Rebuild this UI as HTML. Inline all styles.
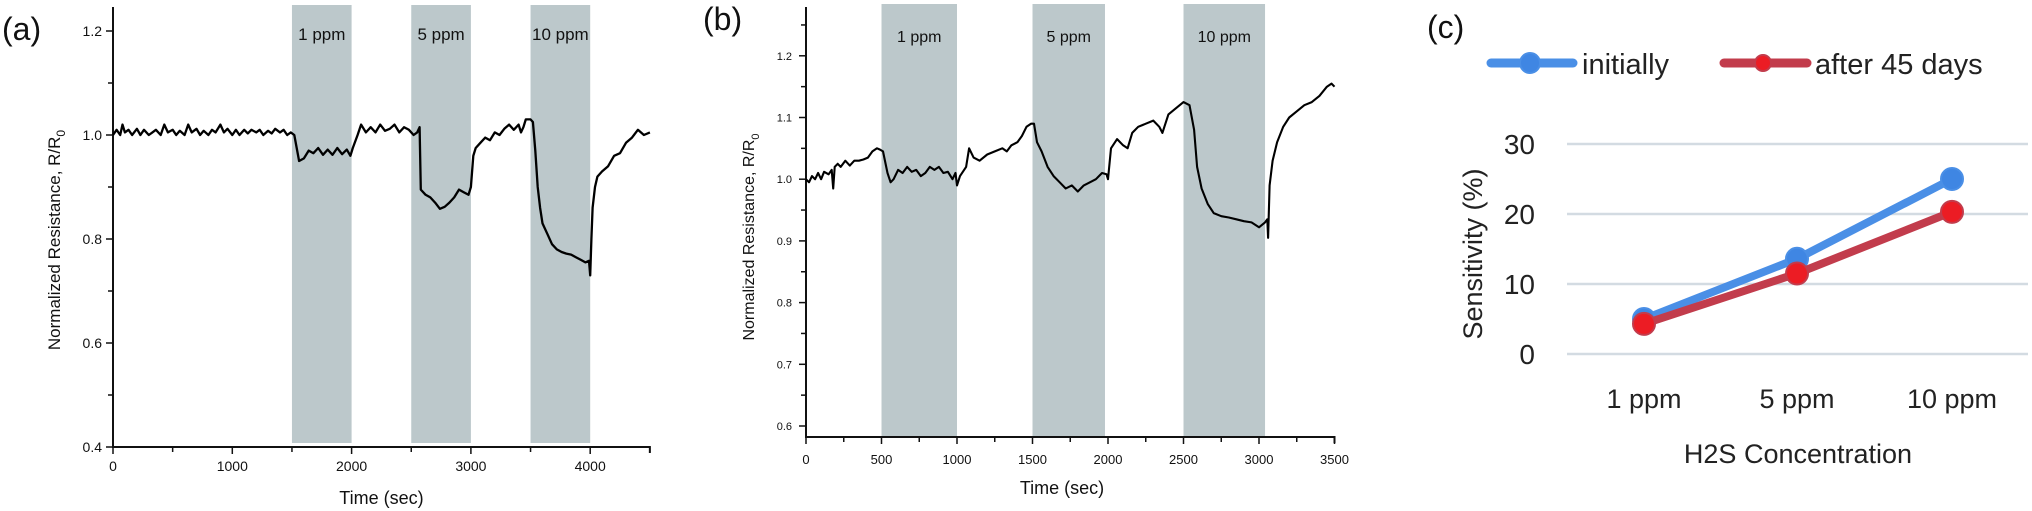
<!DOCTYPE html>
<html><head><meta charset="utf-8"><style>
html,body{margin:0;padding:0;background:#fff;}
svg{display:block;}
.ar{font-family:"Liberation Sans",Arial,sans-serif;}
</style></head><body>
<svg id="fig" width="2032" height="511" viewBox="0 0 2032 511" xmlns="http://www.w3.org/2000/svg">
<g id="pa"></g>
<g id="pb"></g>
<g id="pc"></g>
</svg>
<script>
// ---------- Panel (a) data ----------
const aTime = [0,30,60,80,100,130,160,200,230,260,300,330,360,400,430,460,500,530,560,600,630,660,700,730,760,800,830,860,900,930,960,1000,1030,1060,1100,1130,1160,1200,1230,1260,1300,1330,1360,1400,1430,1460,1490,1520,1540,1560,1600,1640,1680,1720,1760,1800,1840,1880,1920,1960,1990,2010,2050,2080,2120,2160,2200,2240,2280,2320,2360,2400,2440,2480,2520,2550,2570,2580,2620,2660,2700,2740,2780,2820,2860,2900,2940,2980,3000,3020,3040,3080,3120,3160,3200,3240,3280,3320,3360,3400,3420,3440,3460,3500,3520,3540,3560,3580,3600,3640,3680,3720,3760,3800,3840,3880,3920,3960,3990,4000,4010,4020,4040,4060,4100,4150,4200,4250,4300,4350,4400,4450,4500];
const aValue = [1.00,1.01,1.00,1.02,1.005,1.01,1.0,1.012,1.0,1.01,1.0,1.005,1.01,1.0,1.02,1.005,1.01,1.0,1.008,1.0,1.02,1.005,1.012,1.0,1.008,1.0,1.01,1.005,1.02,1.005,1.012,1.0,1.01,1.0,1.01,1.003,1.01,1.005,1.01,1.0,1.008,1.003,1.012,1.005,1.01,1.0,1.005,1.0,0.975,0.95,0.955,0.97,0.965,0.975,0.962,0.972,0.962,0.975,0.963,0.972,0.96,0.975,1.0,1.02,1.005,1.015,1.005,1.02,1.008,1.012,1.02,1.005,1.015,1.01,1.0,1.005,1.015,0.895,0.885,0.88,0.87,0.858,0.862,0.87,0.88,0.895,0.89,0.885,0.90,0.96,0.975,0.985,0.995,0.99,1.005,1.0,1.012,1.02,1.01,1.02,1.005,1.015,1.03,1.03,1.025,0.97,0.9,0.86,0.83,0.81,0.79,0.78,0.775,0.772,0.77,0.765,0.76,0.755,0.758,0.73,0.8,0.86,0.9,0.92,0.93,0.94,0.96,0.965,0.985,0.995,1.01,1.0,1.005];
const aBandStart = [1500,2500,3500];
const aBandEnd = [2000,3000,4000];
const aBandLabel = ["1 ppm","5 ppm","10 ppm"];
const aXTicks = [0,1000,2000,3000,4000];
const aYTicks = [0.4,0.6,0.8,1.0,1.2];

// ---------- Panel (b) data ----------
const bTime = [0,20,40,60,80,100,120,150,170,180,190,210,230,260,290,320,350,380,410,440,470,490,510,540,560,580,610,640,670,700,730,760,790,820,850,880,910,940,970,990,1000,1020,1060,1080,1110,1150,1200,1250,1300,1330,1360,1400,1430,1460,1490,1510,1530,1560,1600,1640,1680,1720,1760,1800,1840,1880,1920,1960,1990,2000,2020,2060,2100,2130,2160,2200,2250,2300,2340,2360,2400,2450,2500,2540,2570,2590,2620,2660,2700,2750,2800,2850,2900,2950,3000,3040,3055,3060,3070,3090,3120,3160,3200,3250,3300,3350,3400,3450,3480,3500];
const bValue = [1.0,0.995,1.005,1.0,1.01,1.0,1.012,1.008,1.015,0.985,1.02,1.025,1.02,1.03,1.022,1.03,1.03,1.032,1.035,1.045,1.05,1.048,1.045,1.01,0.995,1.0,1.015,1.01,1.02,1.012,1.015,1.005,1.01,1.02,1.015,1.02,1.01,1.012,1.0,1.01,0.99,1.005,1.02,1.05,1.035,1.03,1.04,1.045,1.05,1.045,1.055,1.06,1.07,1.085,1.09,1.09,1.06,1.045,1.02,1.005,0.995,0.985,0.99,0.98,0.99,0.995,1.0,1.01,1.008,1.0,1.05,1.065,1.055,1.05,1.075,1.085,1.09,1.095,1.085,1.075,1.105,1.115,1.125,1.12,1.08,1.02,0.985,0.96,0.945,0.94,0.938,0.935,0.932,0.93,0.922,0.93,0.935,0.905,0.99,1.03,1.06,1.085,1.1,1.11,1.12,1.125,1.135,1.15,1.155,1.15];
const bBandStart = [500,1500,2500];
const bBandEnd = [1000,1980,3040];
const bBandLabel = ["1 ppm","5 ppm","10 ppm"];
const bXTicks = [0,500,1000,1500,2000,2500,3000,3500];
const bYTicks = [0.6,0.7,0.8,0.9,1.0,1.1,1.2];

// ---------- Panel (c) data ----------
const cCategories = ["1 ppm","5 ppm","10 ppm"];
const cInitial = [5.0,13.6,25.0];
const cAfter = [4.3,11.5,20.3];
const cYTicks = [0,10,20,30];

const NS = "http://www.w3.org/2000/svg";
function mk(parent, tag, attrs, text){
  const e = document.createElementNS(NS, tag);
  for (const k in attrs) e.setAttribute(k, attrs[k]);
  if (text !== undefined) e.textContent = text;
  parent.appendChild(e);
  return e;
}

// ===== Panel A =====
(function(){
  const g = document.getElementById('pa');
  const x0 = 113, xPer = 119.3/1000;
  const X = t => x0 + t*xPer;
  const Y = v => 447 - (v-0.4)*(104/0.2);
  // bands
  for (let i=0;i<aBandStart.length;i++){
    const r = mk(g,'rect',{x:X(aBandStart[i]),y:5,width:X(aBandEnd[i])-X(aBandStart[i]),height:438,fill:'#bcc8cb'});
    
    
    const t = mk(g,'text',{x:(X(aBandStart[i])+X(aBandEnd[i]))/2,y:40,'text-anchor':'middle','font-size':'17',class:'ar',fill:'#111'},aBandLabel[i]);
    
    
  }
  // axes
  const ax = mk(g,'path',{d:`M${x0},7 V${447} H${X(4500)} v6`,stroke:'#111','stroke-width':2,fill:'none'});
  
  
  for (let t=0;t<=4500;t+=500){
    mk(g,'line',{x1:X(t),x2:X(t),y1:447,y2:t%1000===0?454:452,stroke:'#111','stroke-width':1.5});
  }
  aXTicks.forEach(t=>{
    const e = mk(g,'text',{x:X(t),y:471,'text-anchor':'middle','font-size':'14',class:'ar',fill:'#111'},String(t));
    
    
  });
  for (let v=0.4; v<=1.21; v+=0.1){
    const major = Math.round(v*10)%2===0;
    mk(g,'line',{x1:x0,x2:x0-(major?7:5),y1:Y(v),y2:Y(v),stroke:'#111','stroke-width':1.5});
  }
  aYTicks.forEach(v=>{
    const e = mk(g,'text',{x:102,y:Y(v)+5,'text-anchor':'end','font-size':'14',class:'ar',fill:'#111'},v.toFixed(1));
    
    
  });
  let d = '';
  aTime.forEach((t,i)=>{ d += (i?'L':'M')+X(t).toFixed(1)+','+Y(aValue[i]).toFixed(1); });
  const ln = mk(g,'path',{d:d,stroke:'#000','stroke-width':2.3,fill:'none','stroke-linejoin':'round'});
  
  
  const xt = mk(g,'text',{x:X(2250),y:504,'text-anchor':'middle','font-size':'18',class:'ar',fill:'#111'},'Time (sec)');
  
  
  const yt = mk(g,'text',{transform:'translate(60,240) rotate(-90)','text-anchor':'middle','font-size':'17',class:'ar',fill:'#111'});
  
  
  yt.innerHTML = 'Normalized Resistance, R/R<tspan font-size="12" dy="5">0</tspan>';
  const pl = mk(g,'text',{x:2,y:40,'font-size':'32',class:'ar',fill:'#111'},'(a)');
  
  
})();

// ===== Panel B =====
(function(){
  const g = document.getElementById('pb');
  const x0 = 806, xPer = 151/1000;
  const X = t => x0 + t*xPer;
  const Y = v => 426 - (v-0.6)*617;
  for (let i=0;i<bBandStart.length;i++){
    const r = mk(g,'rect',{x:X(bBandStart[i]),y:4,width:X(bBandEnd[i])-X(bBandStart[i]),height:432,fill:'#bcc8cb'});
    
    
    const t = mk(g,'text',{x:(X(bBandStart[i])+X(bBandEnd[i]))/2,y:42,'text-anchor':'middle','font-size':'16',class:'ar',fill:'#111'},bBandLabel[i]);
    
    
  }
  const ax = mk(g,'path',{d:`M${x0},7 V437 H${X(3500)} v6`,stroke:'#111','stroke-width':2,fill:'none'});
  
  
  for (let t=0;t<=3500;t+=250){
    mk(g,'line',{x1:X(t),x2:X(t),y1:437,y2:t%500===0?444:442,stroke:'#111','stroke-width':1.5});
  }
  bXTicks.forEach(t=>{
    const e = mk(g,'text',{x:X(t),y:464,'text-anchor':'middle','font-size':'13',class:'ar',fill:'#111'},String(t));
    
    
  });
  for (let k=12;k<=25;k++){
    const v = k*0.05;
    const major = k%2===0;
    mk(g,'line',{x1:x0,x2:x0-(major?7:5),y1:Y(v),y2:Y(v),stroke:'#111','stroke-width':1.5});
  }
  bYTicks.forEach(v=>{
    const e = mk(g,'text',{x:792,y:Y(v)+4,'text-anchor':'end','font-size':'11',class:'ar',fill:'#111'},v.toFixed(1));
    
    
  });
  let d='';
  bTime.forEach((t,i)=>{ d += (i?'L':'M')+X(t).toFixed(1)+','+Y(bValue[i]).toFixed(1); });
  const ln = mk(g,'path',{d:d,stroke:'#000','stroke-width':2.1,fill:'none','stroke-linejoin':'round'});
  
  
  const xt = mk(g,'text',{x:1062,y:494,'text-anchor':'middle','font-size':'18',class:'ar',fill:'#111'},'Time (sec)');
  
  
  const yt = mk(g,'text',{transform:'translate(754,237) rotate(-90)','text-anchor':'middle','font-size':'16',class:'ar',fill:'#111'});
  
  
  yt.innerHTML = 'Normalized Resistance, R/R<tspan font-size="11" dy="5">0</tspan>';
  const pl = mk(g,'text',{x:703,y:30,'font-size':'32',class:'ar',fill:'#111'},'(b)');
  
  
})();

// ===== Panel C =====
(function(){
  const g = document.getElementById('pc');
  const xs = [1644,1797,1952];
  const Y = v => 354 - v*7.0;
  cYTicks.forEach(v=>{
    const gl = mk(g,'line',{x1:1567,x2:2028,y1:Y(v),y2:Y(v),stroke:'#d3dbe2','stroke-width':2.5});
    
    
    const e = mk(g,'text',{x:1535,y:Y(v)+10,'text-anchor':'end','font-size':'28',class:'ar',fill:'#222'},String(v));
    
    
  });
  cCategories.forEach((c,i)=>{
    const e = mk(g,'text',{x:xs[i],y:408,'text-anchor':'middle','font-size':'27',class:'ar',fill:'#222'},c);
    
    
  });
  function series(vals, lineColor, fill, name){
    let d='';
    vals.forEach((v,i)=>{ d += (i?'L':'M')+xs[i]+','+Y(v); });
    const p = mk(g,'path',{d:d,stroke:lineColor,'stroke-width':8,fill:'none','stroke-linecap':'round','stroke-linejoin':'round'});
    
    
    vals.forEach((v,i)=>{
      const c = mk(g,'circle',{cx:xs[i],cy:Y(v),r:11,fill:fill,stroke:lineColor,'stroke-width':2});
      
      
    });
  }
  series(cInitial,'#4a8fe6','#3f86e3','initially');
  series(cAfter,'#c23c4c','#ec1c24','after-45-days');
  // legend
  const l1 = mk(g,'line',{x1:1491,x2:1573,y1:63,y2:63,stroke:'#4a8fe6','stroke-width':9,'stroke-linecap':'round'});
  
  
  const m1 = mk(g,'circle',{cx:1530,cy:63,r:10,fill:'#3f86e3',stroke:'#4a8fe6','stroke-width':2});
  
  
  const t1 = mk(g,'text',{x:1582,y:74,'font-size':'29',class:'ar',fill:'#222'},'initially');
  
  
  const l2 = mk(g,'line',{x1:1724,x2:1807,y1:63,y2:63,stroke:'#c23c4c','stroke-width':9,'stroke-linecap':'round'});
  
  
  const m2 = mk(g,'circle',{cx:1763,cy:63,r:8,fill:'#ec1c24',stroke:'#c23c4c','stroke-width':2});
  
  
  const t2 = mk(g,'text',{x:1815,y:74,'font-size':'29',class:'ar',fill:'#222'},'after 45 days');
  
  
  const xt = mk(g,'text',{x:1798,y:463,'text-anchor':'middle','font-size':'27',class:'ar',fill:'#222'},'H2S Concentration');
  
  
  const yt = mk(g,'text',{transform:'translate(1482,254) rotate(-90)','text-anchor':'middle','font-size':'27',class:'ar',fill:'#222'},'Sensitivity (%)');
  
  
  const pl = mk(g,'text',{x:1427,y:38,'font-size':'32',class:'ar',fill:'#111'},'(c)');
  
  
})();
</script>
</body></html>
